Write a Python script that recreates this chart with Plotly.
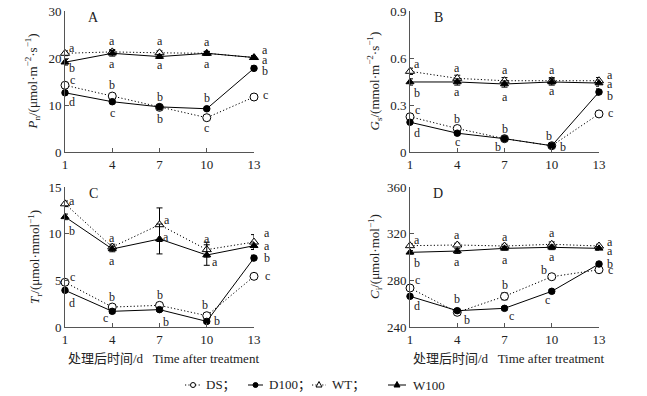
import plotly.graph_objects as go

days = [1, 4, 7, 10, 13]

# Panel A: Pn
A_DS = [14.2, 11.9, 9.5, 7.3, 11.7]
A_D100 = [12.6, 10.7, 9.6, 9.2, 17.8]
A_WT = [21.0, 21.3, 21.1, 21.0, 20.1]
A_W100 = [19.1, 21.0, 20.3, 21.0, 20.1]
A_DS_err = [0.5, 0.4, 0.4, 0.4, 0.4]
A_D100_err = [0.4, 0.4, 0.3, 0.3, 0.5]
A_WT_err = [0.5, 0.5, 0.4, 0.4, 0.4]
A_W100_err = [0.6, 0.6, 0.4, 0.4, 0.4]
A_DS_let = ['c', 'b', 'b', 'c', 'c']
A_D100_let = ['d', 'c', 'b', 'b', 'b']
A_WT_let = ['a', 'a', 'a', 'a', 'a']
A_W100_let = ['b', 'a', 'a', 'a', 'a']

# Panel B: Gs
B_DS = [0.225, 0.15, 0.085, 0.04, 0.243]
B_D100 = [0.19, 0.12, 0.085, 0.04, 0.383]
B_WT = [0.515, 0.47, 0.455, 0.455, 0.455]
B_W100 = [0.447, 0.447, 0.434, 0.447, 0.44]
B_DS_err = [0.02, 0.015, 0.01, 0.01, 0.01]
B_D100_err = [0.01, 0.01, 0.01, 0.01, 0.02]
B_WT_err = [0.02, 0.02, 0.02, 0.02, 0.02]
B_W100_err = [0.02, 0.02, 0.02, 0.02, 0.02]
B_DS_let = ['c', 'b', 'b', 'b', 'c']
B_D100_let = ['d', 'c', 'b', 'b', 'b']
B_WT_let = ['a', 'a', 'a', 'a', 'a']
B_W100_let = ['b', 'a', 'a', 'a', 'a']

# Panel C: Tr
C_DS = [4.79, 2.14, 2.32, 1.21, 5.43]
C_D100 = [3.93, 1.68, 1.86, 0.6, 7.39]
C_WT = [13.2, 8.57, 10.96, 8.29, 9.1]
C_W100 = [11.8, 8.36, 9.43, 7.71, 8.71]
C_DS_err = [0.2, 0.2, 0.3, 0.2, 0.2]
C_D100_err = [0.2, 0.2, 0.2, 0.2, 0.3]
C_WT_err = [0.3, 0.3, 1.8, 0.8, 0.8]
C_W100_err = [0.3, 0.3, 1.6, 1.1, 0.4]
C_DS_let = ['c', 'b', 'b', 'b', 'c']
C_D100_let = ['d', 'c', 'b', 'b', 'b']
C_WT_let = ['a', 'a', 'a', 'a', 'a']
C_W100_let = ['b', 'a', 'a', 'a', 'a']

# Panel D: Ci
D_DS = [273.4, 252.6, 266.3, 283.1, 289.1]
D_D100 = [266.3, 254.0, 256.0, 270.6, 294.0]
D_WT = [309.7, 310.3, 309.4, 310.9, 309.4]
D_W100 = [304.0, 305.1, 307.4, 308.3, 307.4]
D_DS_err = [2.0, 1.5, 3.0, 1.5, 1.5]
D_D100_err = [1.5, 1.5, 1.5, 1.5, 1.5]
D_WT_err = [1.5, 1.5, 1.5, 2.0, 1.5]
D_W100_err = [1.5, 2.0, 1.5, 2.0, 1.5]
D_DS_let = ['c', 'b', 'b', 'b', 'c']
D_D100_let = ['d', 'b', 'c', 'c', 'b']
D_WT_let = ['a', 'a', 'a', 'a', 'a']
D_W100_let = ['b', 'a', 'a', 'a', 'a']

series_names = ['DS；', 'D100；', 'WT；', 'W100']
y_ticks = {
    'A': [0, 10, 20, 30],
    'B': [0, 0.3, 0.6, 0.9],
    'C': [0, 5, 10, 15],
    'D': [240, 280, 320, 360],
}
y_ticktext = {
    'A': ['0', '10', '20', '30'],
    'B': ['0', '0.3', '0.6', '0.9'],
    'C': ['0', '5', '10', '15'],
    'D': ['240', '280', '320', '360'],
}
y_titles = {
    'A': '<i>P</i><sub>n</sub>/(μmol·m<sup>−2</sup>·s<sup>−1</sup>)',
    'B': '<i>G</i><sub>s</sub>/(mmol·m<sup>−2</sup>·s<sup>−1</sup>)',
    'C': '<i>T</i><sub>r</sub>/(μmol·mmol<sup>−1</sup>)',
    'D': '<i>C</i><sub>i</sub>/(μmol·mol<sup>−1</sup>)',
}
x_title = '处理后时间/d   Time after treatment'

# ---------- styling / layout (not data) ----------
W, H = 647, 396
FONT = 'Liberation Serif, Times New Roman, Noto Sans CJK SC, serif'
TXT = '#222222'
AX = '#555555'
DOT = '1.2px,2.2px'

panels = {
    'A': dict(x0=65, x1=254, y0=11, y1=152, yr=[0, 30], ax='', title_x=33),
    'B': dict(x0=410, x1=599, y0=11, y1=152, yr=[0, 0.9], ax='2', title_x=375),
    'C': dict(x0=65, x1=254, y0=187, y1=327, yr=[0, 15], ax='3', title_x=35),
    'D': dict(x0=410, x1=599, y0=187, y1=327, yr=[240, 360], ax='4', title_x=375),
}

styles = [
    dict(dash=DOT, symbol='circle', fill='white', size=8),
    dict(dash='solid', symbol='circle', fill='black', size=6.5),
    dict(dash=DOT, symbol='triangle-up', fill='white', size=8),
    dict(dash='solid', symbol='triangle-up', fill='black', size=7),
]

# label offsets in pixels (dx, dy down-positive), per series per day
offsets = {
    'A': [
        [(7, -5), (0, -11), (0, -10), (0, 10), (11, -2)],
        [(7, 9), (0, 11), (0, 12), (0, -11), (11, 3)],
        [(7, -5), (0, -11), (0, -12), (0, -11), (11, -8)],
        [(7, 6), (0, 11), (0, 8), (0, 11), (11, 2)],
    ],
    'B': [
        [(7, -7), (0, -10), (0, -10), (-3, -10), (11, -1)],
        [(7, 11), (0, 9), (-7, 8), (11, 1), (11, 4)],
        [(7, -7), (0, -10), (0, -11), (0, -11), (11, -6)],
        [(7, 11), (0, 10), (0, 13), (0, 9), (11, 1)],
    ],
    'C': [
        [(7, -5), (0, -10), (0, -10), (-2, -11), (13, 0)],
        [(7, 13), (-7, 7), (6, 12), (10, 0), (13, 0)],
        [(7, -3), (0, -9), (7, -5), (0, -11), (13, -9)],
        [(7, 14), (0, 12), (6, -2), (8, 7), (13, 0)],
    ],
    'D': [
        [(7, -8), (10, 8), (0, -11), (-8, -7), (11, 0)],
        [(7, 10), (0, -12), (7, 8), (-4, 9), (11, 0)],
        [(7, -6), (0, -10), (0, -9), (0, -11), (11, -4)],
        [(7, 11), (0, 11), (0, 12), (0, 10), (11, 3)],
    ],
}

data = {
    'A': ([A_DS, A_D100, A_WT, A_W100], [A_DS_err, A_D100_err, A_WT_err, A_W100_err],
          [A_DS_let, A_D100_let, A_WT_let, A_W100_let]),
    'B': ([B_DS, B_D100, B_WT, B_W100], [B_DS_err, B_D100_err, B_WT_err, B_W100_err],
          [B_DS_let, B_D100_let, B_WT_let, B_W100_let]),
    'C': ([C_DS, C_D100, C_WT, C_W100], [C_DS_err, C_D100_err, C_WT_err, C_W100_err],
          [C_DS_let, C_D100_let, C_WT_let, C_W100_let]),
    'D': ([D_DS, D_D100, D_WT, D_W100], [D_DS_err, D_D100_err, D_WT_err, D_W100_err],
          [D_DS_let, D_D100_let, D_WT_let, D_W100_let]),
}

fig = go.Figure()
annotations = []
shapes = []
layout_axes = {}

for key, p in panels.items():
    ax = p['ax']
    xa = 'x' + ax
    ya = 'y' + ax
    vals, errs, lets = data[key]
    for i, (v, e, l) in enumerate(zip(vals, errs, lets)):
        st = styles[i]
        fig.add_trace(go.Scatter(
            x=days, y=v, xaxis=xa, yaxis=ya, mode='lines+markers',
            name=series_names[i], showlegend=False,
            line=dict(color='black', width=1, dash=st['dash']),
            marker=dict(symbol=st['symbol'], size=st['size'], color=st['fill'],
                        line=dict(color='black', width=1)),
            error_y=dict(type='data', array=e, color='black', thickness=1, width=3),
            cliponaxis=False,
        ))
        for j, (d, yv, letter) in enumerate(zip(days, v, l)):
            dx, dy = offsets[key][i][j]
            annotations.append(dict(
                x=d, y=yv, xref=xa, yref=ya, text=letter, showarrow=False,
                xshift=dx, yshift=-dy, xanchor='center', yanchor='middle',
                font=dict(family=FONT, size=12, color=TXT)))
    xdom = [p['x0'] / W, p['x1'] / W]
    ydom = [1 - p['y1'] / H, 1 - p['y0'] / H]
    layout_axes['xaxis' + ax] = dict(
        domain=xdom, range=[1, 13], anchor=ya, tickvals=days,
        ticktext=[str(d) for d in days], ticks='inside', ticklen=4,
        tickcolor=AX, showline=True, linecolor=AX, linewidth=1,
        showgrid=False, zeroline=False, automargin=False,
        tickfont=dict(family=FONT, size=13, color=TXT))
    layout_axes['yaxis' + ax] = dict(
        domain=ydom, range=p['yr'], anchor=xa, tickvals=y_ticks[key],
        ticktext=y_ticktext[key], ticks='inside', ticklen=4,
        tickcolor=AX, showline=True, linecolor=AX, linewidth=1,
        showgrid=False, zeroline=False, automargin=False,
        tickfont=dict(family=FONT, size=13, color=TXT))
    annotations.append(dict(
        x=(p['x0'] + 28) / W, y=1 - (p['y0'] + 6) / H, xref='paper', yref='paper',
        text=key, showarrow=False, xanchor='center', yanchor='middle',
        font=dict(family=FONT, size=14, color=TXT)))
    annotations.append(dict(
        x=p['title_x'] / W, y=1 - ((p['y0'] + p['y1']) / 2) / H, xref='paper', yref='paper',
        text=y_titles[key], showarrow=False, textangle=-90, xanchor='center',
        yanchor='middle', font=dict(family=FONT, size=13, color=TXT)))
    if key in ('C', 'D'):
        annotations.append(dict(
            x=((p['x0'] + p['x1']) / 2 + 4) / W, y=1 - 358 / H, xref='paper', yref='paper',
            text=x_title, showarrow=False, xanchor='center', yanchor='middle',
            font=dict(family=FONT, size=13, color=TXT)))

# custom legend (paper coordinates)
leg_y = 1 - 385 / H
leg_items = [  # (line x0, line x1, text x) in px
    (185, 201, 204), (248, 263, 267), (312, 326, 330), (388, 406, 411)
]
for i, (lx0, lx1, tx) in enumerate(leg_items):
    st = styles[i]
    shapes.append(dict(type='line', xref='paper', yref='paper', x0=lx0 / W, x1=lx1 / W,
                       y0=leg_y, y1=leg_y,
                       line=dict(color='black', width=1, dash=st['dash'])))
    cx = (lx0 + lx1) / 2
    cy = 385
    if st['symbol'] == 'circle':
        r = 2.5
        shapes.append(dict(type='circle', xref='paper', yref='paper',
                           x0=(cx - r) / W, x1=(cx + r) / W,
                           y0=1 - (cy + r) / H, y1=1 - (cy - r) / H,
                           fillcolor=st['fill'], line=dict(color='black', width=1)))
    else:
        s = 3
        path = 'M{},{} L{},{} L{},{} Z'.format(
            (cx - s) / W, 1 - (cy + 2) / H, (cx + s) / W, 1 - (cy + 2) / H,
            cx / W, 1 - (cy - 3.5) / H)
        shapes.append(dict(type='path', xref='paper', yref='paper', path=path,
                           fillcolor=st['fill'], line=dict(color='black', width=1)))
    annotations.append(dict(
        x=tx / W, y=leg_y, xref='paper', yref='paper', text=series_names[i],
        showarrow=False, xanchor='left', yanchor='middle',
        font=dict(family=FONT, size=13, color=TXT)))

fig.update_layout(
    width=W, height=H, margin=dict(l=0, r=0, t=0, b=0, autoexpand=False),
    paper_bgcolor='white', plot_bgcolor='white',
    annotations=annotations, shapes=shapes,
    showlegend=False,
    **layout_axes,
)

fig.write_html('out.html', config={'displayModeBar': False},
               post_script="document.body.style.margin='0';document.body.style.padding='0';")
